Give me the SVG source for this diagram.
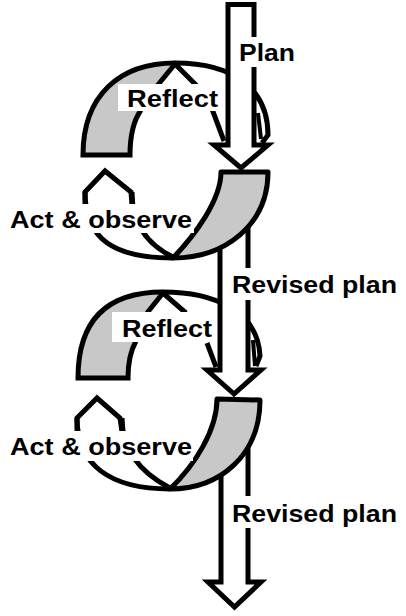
<svg xmlns="http://www.w3.org/2000/svg" width="406" height="616" viewBox="0 0 406 616">
<style>
.ln{fill:none;stroke:#000;stroke-width:5;stroke-linejoin:miter;stroke-linecap:butt}
.thin{fill:none;stroke:#000;stroke-width:4}
.gray{fill:#c8c8c8;stroke:none}
.band{fill:#c8c8c8;stroke:#000;stroke-width:5;stroke-linejoin:round}
.arrow{fill:#fff;stroke:#000;stroke-width:5;stroke-linejoin:miter}
.bg{fill:#fff}
.lbl{font-family:"Liberation Sans",Arial,sans-serif;font-weight:bold;font-size:23px;fill:#000}
</style>
<rect width="406" height="616" fill="#fff"/>
<g id="reflect-1">
<path class="gray" d="M83,155 C83,95 120,63 175,63 L157,86 L141,110 C134,120 130,135 130,155 Z"/>
<path class="ln" d="M141,110 C134,120 130,135 130,155 L83,155 C83,95 120,63 175,63 C235,63 268,90 268,135 L262,143"/>
<path class="ln" d="M157,86 L175,64 L197,86"/>
<path class="ln" d="M212,109 L224,141"/>
<path class="thin" d="M258,113 L261,139"/>
</g>
<g id="reflect-2">
<path class="gray" d="M78,378 C78,322 105,292 163,292 L148,314 L136,341 C131,350 128,362 128,378 Z"/>
<path class="ln" d="M136,341 C131,350 128,362 128,378 L78,378 C78,322 105,292 163,292 C212,292 258,310 260,356 L256,366"/>
<path class="ln" d="M147,313 L163,293 L186,313"/>
<path class="ln" d="M207,343 L216,367"/>
<path class="thin" d="M253,340 L255,366"/>
</g>
<g id="connectors">
<g id="plan-arrow"><path class="arrow" d="M228,4.5 L254,4.5 L254,145 L268,145 L241,168 L214,145 L228,145 Z"/></g>
<g id="revised-plan-1-arrow"><path class="arrow" d="M220,210 L248,210 L248,370 L261,370 L234,394 L207,370 L220,370 Z"/></g>
<g id="revised-plan-2-arrow"><path class="arrow" d="M221,430 L248,430 L248,582 L261,582 L234.5,607 L208,582 L221,582 Z"/></g>
</g>
<g id="act-observe-1">
<path class="ln" d="M85,205 L85,192 L105,171 L131,192 L132,205"/>
<path class="ln" d="M85,192 C85,240 115,258 173,258"/>
<path class="ln" d="M132,192 C132,225 148,245 173,257"/>
<path class="band" d="M221,172 L268,172 C268,225 225,258 173,258 C195,235 221,200 221,172 Z"/>
</g>
<g id="act-observe-2">
<path class="ln" d="M77,432 L77,418 L97,398 L120,418 L122,432"/>
<path class="ln" d="M77,418 C77,465 110,489 170,489"/>
<path class="ln" d="M122,418 C122,452 143,474 170,488"/>
<path class="band" d="M217,399 L260,400 C260,455 220,489 170,489 C195,465 217,430 217,399 Z"/>
</g>
<g id="labels">
<g id="label-plan"><rect class="bg" x="233" y="37" width="67" height="30"/><text class="lbl" x="239" y="61" textLength="56" lengthAdjust="spacingAndGlyphs">Plan</text></g>
<g id="label-reflect-1"><rect class="bg" x="118" y="84" width="103" height="27"/><text class="lbl" x="127" y="107" textLength="91" lengthAdjust="spacingAndGlyphs">Reflect</text></g>
<g id="label-act-1"><rect class="bg" x="4" y="204" width="190" height="29"/><text class="lbl" x="10" y="228" textLength="182" lengthAdjust="spacingAndGlyphs">Act &amp; observe</text></g>
<g id="label-revised-1"><rect class="bg" x="227" y="268" width="176" height="32"/><text class="lbl" x="232" y="293" textLength="165" lengthAdjust="spacingAndGlyphs">Revised plan</text></g>
<g id="label-reflect-2"><rect class="bg" x="112" y="312" width="104" height="30"/><text class="lbl" x="122" y="337" textLength="90" lengthAdjust="spacingAndGlyphs">Reflect</text></g>
<g id="label-act-2"><rect class="bg" x="4" y="431" width="189" height="30"/><text class="lbl" x="10" y="455" textLength="182" lengthAdjust="spacingAndGlyphs">Act &amp; observe</text></g>
<g id="label-revised-2"><rect class="bg" x="227" y="496" width="176" height="32"/><text class="lbl" x="232" y="522" textLength="165" lengthAdjust="spacingAndGlyphs">Revised plan</text></g>
</g>
</svg>
